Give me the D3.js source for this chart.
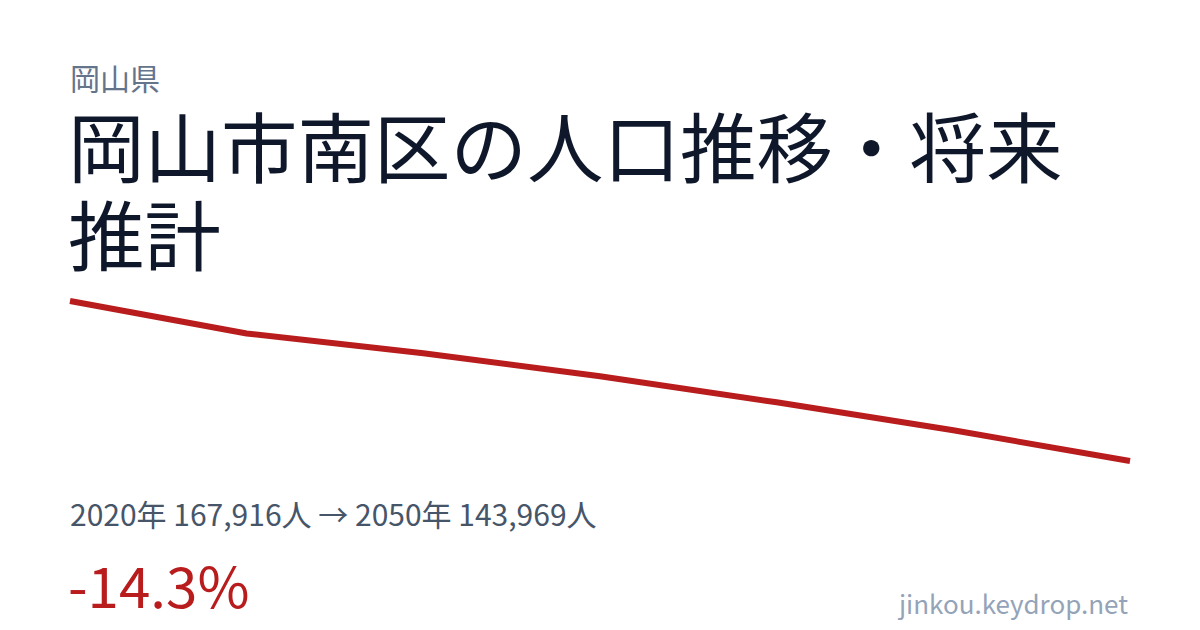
<!DOCTYPE html>
<html>
<head>
<meta charset="utf-8">
<script src="https://cdn.jsdelivr.net/npm/d3@7"></script>
<style>
  html, body { margin: 0; padding: 0; background: #fff; }
  svg { display: block; font-family: "Noto Sans CJK JP", "Noto Sans", sans-serif; }
</style>
</head>
<body>
<svg id="card" width="1200" height="630"></svg>
<script>
var prefecture = "岡山県";
var titleLines = ["岡山市南区の人口推移・将来", "推計"];
var years = [2020, 2025, 2030, 2035, 2040, 2045, 2050];
var population = [167916, 163050, 160090, 156640, 152750, 148560, 143969];
var siteName = "jinkou.keydrop.net";

var width = 1200,
    height = 630;

var svg = d3.select("#card");

svg.append("rect")
  .attr("width", width)
  .attr("height", height)
  .attr("fill", "#ffffff");

// header
svg.append("text")
  .attr("x", 70)
  .attr("y", 90)
  .attr("font-size", 30)
  .attr("fill", "#64748b")
  .text(prefecture);

svg.append("g").selectAll("text")
  .data(titleLines)
  .enter().append("text")
  .attr("x", 68)
  .attr("y", function(d, i) { return 177 + i * 88; })
  .attr("font-size", 76.5)
  .attr("fill", "#0f172a")
  .text(function(d) { return d; });

// sparkline
var x = d3.scaleLinear()
  .domain(d3.extent(years))
  .range([70, 1130]);

var y = d3.scaleLinear()
  .domain(d3.extent(population))
  .range([461, 301]);

var line = d3.line()
  .x(function(d, i) { return x(years[i]); })
  .y(function(d) { return y(d); });

svg.append("path")
  .datum(population)
  .attr("d", line)
  .attr("fill", "none")
  .attr("stroke", "#b91c1c")
  .attr("stroke-width", 6)
  .attr("stroke-linejoin", "round");

// summary
var fmt = d3.format(",");
var first = population[0],
    last = population[population.length - 1];
var change = (last - first) / first * 100;

svg.append("text")
  .attr("x", 70)
  .attr("y", 526)
  .attr("font-size", 30)
  .attr("fill", "#475569")
  .text(years[0] + "年 " + fmt(first) + "人 → " + years[years.length - 1] + "年 " + fmt(last) + "人");

svg.append("text")
  .attr("x", 68)
  .attr("y", 608)
  .attr("font-size", 56.5)
  .attr("fill", "#b91c1c")
  .text((change > 0 ? "+" : "") + change.toFixed(1) + "%");

svg.append("text")
  .attr("x", 1128)
  .attr("y", 614)
  .attr("text-anchor", "end")
  .attr("font-size", 26)
  .attr("fill", "#94a3b8")
  .text(siteName);
</script>
</body>
</html>
